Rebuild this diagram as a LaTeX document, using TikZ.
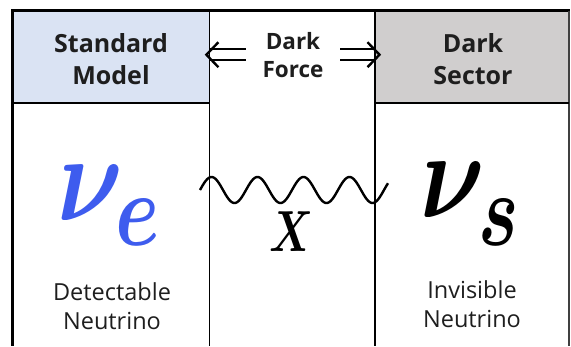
\documentclass[tikz,border=0pt]{standalone}
\usepackage{amsmath}
\usepackage{fontspec}
\setmainfont{Open Sans}
\definecolor{smblue}{RGB}{218,227,243}
\definecolor{dsgrey}{RGB}{208,206,206}
\definecolor{nublue}{RGB}{62,92,238}
\definecolor{txt}{RGB}{30,30,30}
\begin{document}
\begin{tikzpicture}[x=1pt,y=-1pt,
  hbox/.style={draw=none,inner sep=0,minimum height=92pt,anchor=north west},
  header/.style={font=\bfseries\fontsize{25}{32}\selectfont,align=center,text=txt,inner sep=0},
  midhead/.style={font=\bfseries\fontsize{22.5}{28}\selectfont,align=center,text=txt,inner sep=0},
  desc/.style={font=\fontsize{23.5}{29}\selectfont,align=center,text=txt,inner sep=0},
  frame/.style={line width=3pt},
  divider/.style={line width=1.6pt},
  arrowline/.style={line width=2.4pt,line cap=butt},
  wave/.style={line width=2.4pt},
  sym/.style={inner sep=0,anchor=south}]
\useasboundingbox (0,0) rectangle (571,346);
% header boxes
\node[hbox,fill=smblue,minimum width=197pt] (smbox) at (12.5,10.5) {};
\node[hbox,fill=dsgrey,minimum width=194pt] (dsbox) at (375,10.5) {};
% frame
\draw[frame] (11,10.5) -- (570,10.5);
\draw[frame] (12.5,9) -- (12.5,346);
\draw[divider] (209.5,10.5) -- (209.5,346);
\draw[divider] (375,10.5) -- (375,346);
\draw[line width=1.3pt,black!75] (569,10.5) -- (569,346);
\draw[divider] (smbox.south west) -- (smbox.south east);
\draw[divider] (dsbox.south west) -- (dsbox.south east);
% header texts
\node[header] (smtext) at (111,59) {Standard\\Model};
\node[header] (dstext) at (473,59) {Dark\\Sector};
\node[midhead] (dftext) at (293,55) {Dark\\Force};
% double arrows
\path (smbox.east) ++(-3.5,-2) coordinate (lt);
\draw[arrowline] ([shift={(4,-5.5)}]lt) -- ([shift={(39.5,-5.5)}]lt);
\draw[arrowline] ([shift={(4,5.5)}]lt) -- ([shift={(39.5,5.5)}]lt);
\draw[arrowline,line join=miter] ([shift={(12,-12.5)}]lt) -- (lt) -- ([shift={(12,12.5)}]lt);
\path (dsbox.west) ++(4.5,-2) coordinate (rt);
\draw[arrowline] ([shift={(-4,-5.5)}]rt) -- ([shift={(-39.5,-5.5)}]rt);
\draw[arrowline] ([shift={(-4,5.5)}]rt) -- ([shift={(-39.5,5.5)}]rt);
\draw[arrowline,line join=miter] ([shift={(-12,-12.5)}]rt) -- (rt) -- ([shift={(-12,12.5)}]rt);
% symbols
\node[sym,text=nublue,xscale=10.2,yscale=12.4] (nue) at (90,223) {$\boldsymbol{\nu}$};
\node[sym,text=nublue,xscale=8,yscale=10.4] (esub) at (138,248) {$\boldsymbol{e}$};
\node[sym,xscale=10,yscale=12.4] (nus) at (453,220) {$\boldsymbol{\nu}$};
\node[sym,xscale=7.6,yscale=10.4] (ssub) at (499,248) {$\boldsymbol{s}$};
\node[sym,xscale=4.3,yscale=5.8] (xb) at (292,253) {$\boldsymbol{X}$};
% wave
\draw[wave,smooth] plot[domain=200:388,samples=160] (\x,{190-13*sin(7.82609*(\x-200))});
% descriptions
\node[desc] (det) at (112,306) {Detectable\\Neutrino};
\node[desc] (inv) at (472,304) {Invisible\\Neutrino};
\end{tikzpicture}
\end{document}
